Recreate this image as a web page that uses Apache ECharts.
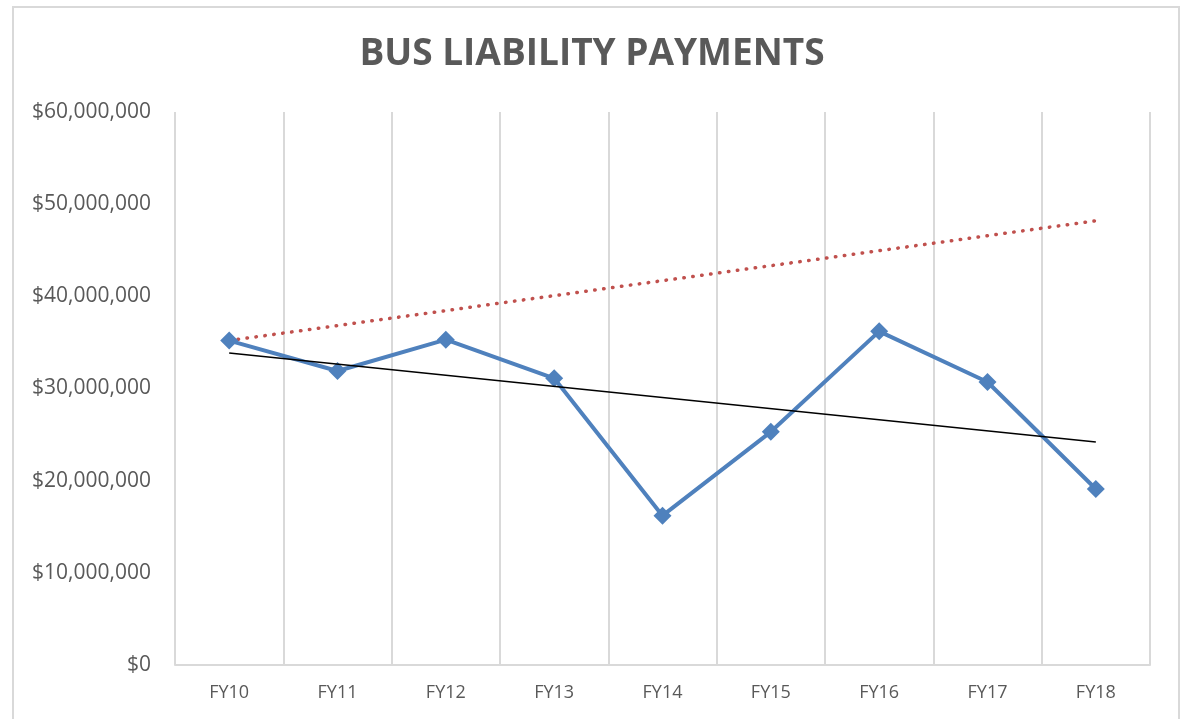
<!DOCTYPE html>
<html>
<head>
<meta charset="utf-8">
<script src="https://cdn.jsdelivr.net/npm/echarts@6/dist/echarts.min.js"></script>
<style>
  html, body { margin: 0; padding: 0; background: #fff; }
  #main { width: 1184px; height: 719px; }
</style>
</head>
<body>
<div id="main"></div>
<script>
// categories and values
var years = ['FY10', 'FY11', 'FY12', 'FY13', 'FY14', 'FY15', 'FY16', 'FY17', 'FY18'];
var payments = [35200000, 31900000, 35300000, 31100000, 16200000, 25300000, 36200000, 30700000, 19100000];
// trendline endpoints (black) and the dotted projection (red), only first and last known
var trend = [33850000, null, null, null, null, null, null, null, 24200000];
var projection = [35200000, null, null, null, null, null, null, null, 48200000];
var yTicks = [0, 10000000, 20000000, 30000000, 40000000, 50000000, 60000000];

var chart = echarts.init(document.getElementById('main'));

function money(v) {
  return '$' + String(v).replace(/\B(?=(\d{3})+(?!\d))/g, ',');
}

var option = {
  backgroundColor: '#fff',
  animation: false,
  title: {
    text: 'BUS LIABILITY PAYMENTS',
    left: 'center',
    top: 31,
    textStyle: {
      fontFamily: 'Open Sans',
      fontWeight: 'bold',
      fontSize: 37,
      color: '#595959'
    }
  },
  graphic: [{
    type: 'rect',
    shape: { x: 13, y: 7, width: 1166, height: 740 },
    style: { fill: 'none', stroke: '#d9d9d9', lineWidth: 2 },
    silent: true
  }],
  grid: { left: 175, right: 34, top: 112, bottom: 54 },
  xAxis: {
    type: 'category',
    data: years,
    boundaryGap: true,
    axisLine: { lineStyle: { color: '#d9d9d9', width: 2 } },
    axisTick: { show: false },
    splitLine: { show: true, lineStyle: { color: '#d9d9d9', width: 2 } },
    axisLabel: {
      color: '#595959',
      fontFamily: 'Open Sans',
      fontSize: 18,
      margin: 19
    }
  },
  yAxis: {
    type: 'value',
    min: yTicks[0],
    max: yTicks[yTicks.length - 1],
    interval: yTicks[1] - yTicks[0],
    axisLine: { show: false },
    axisTick: { show: false },
    splitLine: { show: false },
    axisLabel: {
      color: '#595959',
      fontFamily: 'Open Sans',
      fontSize: 21,
      margin: 24,
      formatter: money
    }
  },
  series: [
    {
      name: 'Projection',
      type: 'line',
      data: projection,
      connectNulls: true,
      symbol: 'none',
      lineStyle: { color: '#c0504d', width: 3.5, type: [0.5, 8.5], cap: 'round' },
      z: 2
    },
    {
      name: 'Trend',
      type: 'line',
      data: trend,
      connectNulls: true,
      symbol: 'none',
      lineStyle: { color: '#000', width: 1.5 },
      z: 4
    },
    {
      name: 'Payments',
      type: 'line',
      data: payments,
      symbol: 'diamond',
      symbolSize: 18,
      itemStyle: { color: '#4f81bd' },
      lineStyle: { color: '#4f81bd', width: 4 },
      z: 3
    }
  ]
};

chart.setOption(option);
</script>
</body>
</html>
